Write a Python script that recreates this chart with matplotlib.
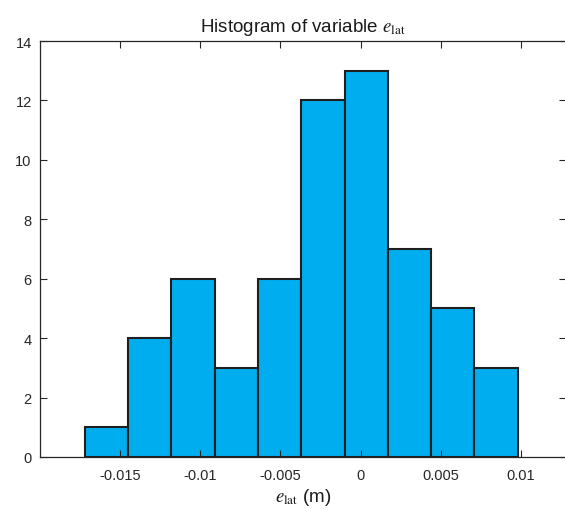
import numpy as np
import matplotlib
matplotlib.use("Agg")
import matplotlib.pyplot as plt

# histogram data
bin_edges = [-0.0172, -0.0145, -0.0118, -0.0091, -0.0064, -0.0037,
             -0.0010, 0.0017, 0.0044, 0.0071, 0.0098]
counts = [1, 4, 6, 3, 6, 12, 13, 7, 5, 3]
x_ticks = [-0.015, -0.01, -0.005, 0, 0.005, 0.01]
x_tick_labels = ["-0.015", "-0.01", "-0.005", "0", "0.005", "0.01"]
y_ticks = [0, 2, 4, 6, 8, 10, 12, 14]

plt.rcParams['font.family'] = ['Liberation Sans', 'DejaVu Sans']
plt.rcParams['mathtext.fontset'] = 'stix'

fig = plt.figure(figsize=(5.65, 5.1), dpi=100)
ax = fig.add_axes([0.0708, 0.102, 0.9305, 0.8156])

centers = bin_edges[:-1]
widths = np.diff(bin_edges)
ax.bar(centers, counts, width=widths, align='edge',
       color='#00AEEF', edgecolor='#1f1f1f', linewidth=1.5)

ax.set_xlim(-0.02, 0.0128)
ax.set_ylim(0, 14)
ax.set_xticks(x_ticks)
ax.set_xticklabels(x_tick_labels)
ax.set_yticks(y_ticks)

for s in ax.spines.values():
    s.set_color('#262626')
    s.set_linewidth(0.9)
ax.tick_params(direction='in', length=5, width=0.8, color='#262626',
               labelcolor='#262626', labelsize=10.5,
               top=True, right=True)
ax.tick_params(axis='x', pad=8)
ax.tick_params(axis='y', pad=6)

ax.set_title(r"Histogram of variable $e_{\mathrm{lat}}$", fontsize=13.5,
             color='#1a1a1a', pad=7)
ax.set_xlabel(r"$e_{\mathrm{lat}}$ (m)", fontsize=13.5, color='#1a1a1a',
              labelpad=3)

fig.savefig("out.png", dpi=100)
